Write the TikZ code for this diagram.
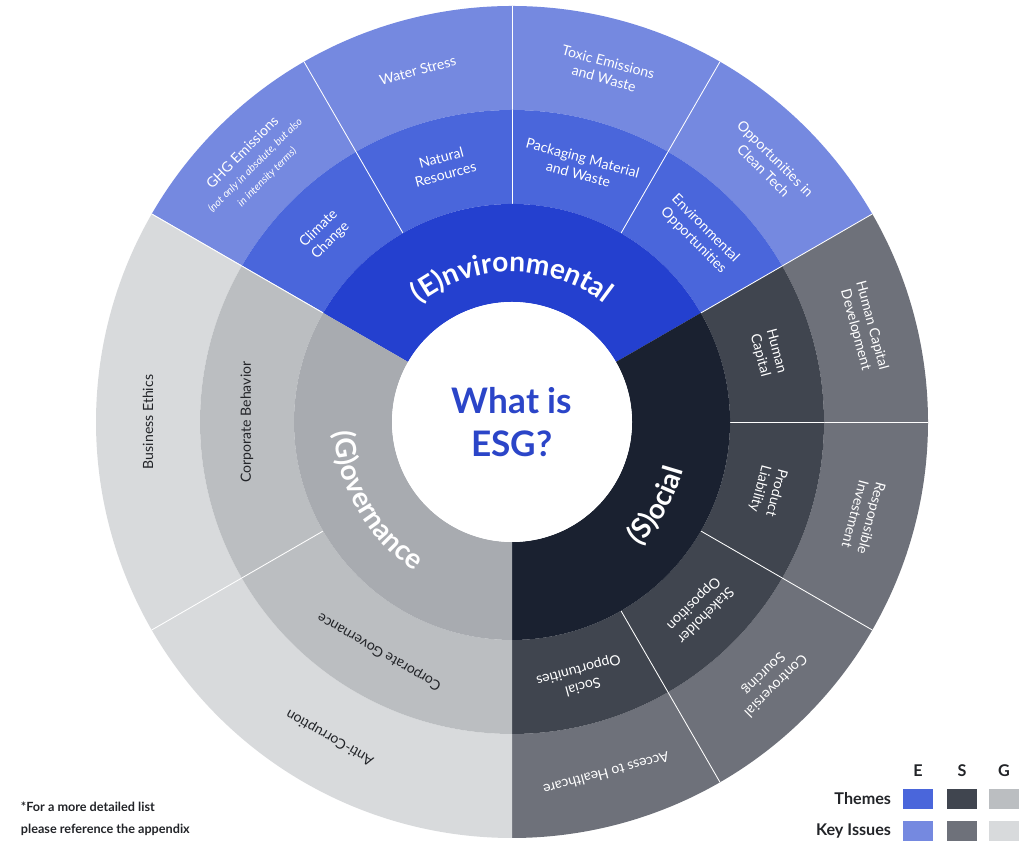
\documentclass[tikz,border=0pt]{standalone}
\usepackage{fontspec}
\setmainfont{Lato}
\usetikzlibrary{decorations.text}
\definecolor{eTheme}{HTML}{2440CF}
\definecolor{eMid}{HTML}{4A66DB}
\definecolor{eKey}{HTML}{7589E0}
\definecolor{sTheme}{HTML}{1A2130}
\definecolor{sMid}{HTML}{40454F}
\definecolor{sKey}{HTML}{6E717A}
\definecolor{gTheme}{HTML}{A8ABB0}
\definecolor{gMid}{HTML}{BBBEC1}
\definecolor{gKey}{HTML}{D8DADC}
\definecolor{esgBlue}{HTML}{2B45C8}
\definecolor{inkDark}{HTML}{222428}
\tikzset{
  sep/.style={draw=white, line width=0.6pt},
  issue/.style={align=center, font=\fontsize{10}{12}\selectfont, inner sep=1pt},
  legtext/.style={font=\bfseries\fontsize{11.5}{13}\selectfont, text=inkDark},
  legbox/.style={minimum width=0.75cm, minimum height=0.5cm, inner sep=0pt}
}
% #1 start angle, #2 end angle, #3 inner radius, #4 outer radius, #5 fill, #6 text colour, #7 label
\newcommand{\ringseg}[7]{%
  \pgfmathsetmacro{\segmid}{(#1+#2)/2}%
  \pgfmathsetmacro{\segrot}{\segmid-90}%
  \pgfmathsetmacro{\segrad}{(#3+#4)/2}%
  \fill[#5] (#1:#3) arc[start angle=#1, end angle=#2, radius=#3] -- (#2:#4)
    arc[start angle=#2, end angle=#1, radius=#4] -- cycle;
  \draw[sep] (#1:#3) -- (#1:#4);
  \node[issue, text=#6, rotate=\segrot] at (\segmid:\segrad) {#7};
}
\begin{document}
\begin{tikzpicture}
\useasboundingbox (0,0) rectangle (25.6,21.425);
\coordinate (C) at (12.8,10.875);
\begin{scope}[shift={(C)}]
  % outer ring: key issues
  \ringseg{150}{120}{7.8}{10.4}{eKey}{white}{GHG Emissions\\{\fontsize{7.5}{9}\selectfont\itshape (not only in absolute, but also}\\{\fontsize{7.5}{9}\selectfont\itshape in intensity terms)}}
  \ringseg{120}{90}{7.8}{10.4}{eKey}{white}{Water Stress}
  \ringseg{90}{60}{7.8}{10.4}{eKey}{white}{Toxic Emissions\\and Waste}
  \ringseg{60}{30}{7.8}{10.4}{eKey}{white}{Opportunities in\\Clean Tech}
  \ringseg{30}{0}{7.8}{10.4}{sKey}{white}{Human Capital\\Development}
  \ringseg{0}{-30}{7.8}{10.4}{sKey}{white}{Responsible\\Investment}
  \ringseg{-30}{-60}{7.8}{10.4}{sKey}{white}{Controversial\\Sourcing}
  \ringseg{-60}{-90}{7.8}{10.4}{sKey}{white}{Access to Healthcare}
  \ringseg{150}{210}{7.8}{10.4}{gKey}{inkDark}{Business Ethics}
  \ringseg{210}{270}{7.8}{10.4}{gKey}{inkDark}{Anti-Corruption}
  % middle ring
  \ringseg{150}{120}{5.45}{7.8}{eMid}{white}{Climate\\Change}
  \ringseg{120}{90}{5.45}{7.8}{eMid}{white}{Natural\\Resources}
  \ringseg{90}{60}{5.45}{7.8}{eMid}{white}{Packaging Material\\and Waste}
  \ringseg{60}{30}{5.45}{7.8}{eMid}{white}{Environmental\\Opportunities}
  \ringseg{30}{0}{5.45}{7.8}{sMid}{white}{Human\\Capital}
  \ringseg{0}{-30}{5.45}{7.8}{sMid}{white}{Product\\Liability}
  \ringseg{-30}{-60}{5.45}{7.8}{sMid}{white}{Stakeholder\\Opposition}
  \ringseg{-60}{-90}{5.45}{7.8}{sMid}{white}{Social\\Opportunities}
  \ringseg{150}{210}{5.45}{7.8}{gMid}{inkDark}{Corporate Behavior}
  \ringseg{210}{270}{5.45}{7.8}{gMid}{inkDark}{Corporate Governance}
  % inner ring: themes
  \fill[eTheme] (30:3) arc[start angle=30, end angle=150, radius=3] -- (150:5.45)
    arc[start angle=150, end angle=30, radius=5.45] -- cycle;
  \fill[sTheme] (-90:3) arc[start angle=-90, end angle=30, radius=3] -- (30:5.45)
    arc[start angle=30, end angle=-90, radius=5.45] -- cycle;
  \fill[gTheme] (150:3) arc[start angle=150, end angle=270, radius=3] -- (270:5.45)
    arc[start angle=270, end angle=150, radius=5.45] -- cycle;
  \path[decorate, decoration={text along path, text align=center,
    text={|\bfseries\fontsize{20}{24}\selectfont\color{white}|(E)nvironmental}}]
    (150:3.75) arc[start angle=150, end angle=30, radius=3.75];
  \path[decorate, decoration={text along path, text align=center,
    text={|\bfseries\fontsize{20}{24}\selectfont\color{white}|(S)ocial}}]
    (-80:4.45) arc[start angle=-80, end angle=20, radius=4.45];
  \path[decorate, decoration={text along path, text align=center,
    text={|\bfseries\fontsize{20}{24}\selectfont\color{white}|(G)overnance}}]
    (160:4.45) arc[start angle=160, end angle=260, radius=4.45];
  \fill[white] (0,0) circle[radius=3];
  \node[align=center, text=esgBlue, font=\bfseries\fontsize{25}{31}\selectfont] (title) at (0,0) {What is\\ESG?};
\end{scope}
% legend
\node[legtext, anchor=south] (hE) at (22.95,1.88) {E};
\node[legtext, anchor=south] (hS) at (24.05,1.88) {S};
\node[legtext, anchor=south] (hG) at (25.1,1.88) {G};
\node[legbox, fill=eMid] (tE) at (22.95,1.45) {};
\node[legbox, fill=sMid] (tS) at (24.05,1.45) {};
\node[legbox, fill=gMid] (tG) at (25.1,1.45) {};
\node[legbox, fill=eKey] (kE) at (22.95,0.65) {};
\node[legbox, fill=sKey] (kS) at (24.05,0.65) {};
\node[legbox, fill=gKey] (kG) at (25.1,0.65) {};
\node[legtext, anchor=east] (themes) at (22.4,1.45) {Themes};
\node[legtext, anchor=east] (keys) at (22.4,0.65) {Key Issues};
\node[anchor=west, align=left, text=inkDark, font=\bfseries\fontsize{9}{16}\selectfont] (note) at (0.4,0.95)
  {*For a more detailed list\\please reference the appendix};
\end{tikzpicture}
\end{document}
